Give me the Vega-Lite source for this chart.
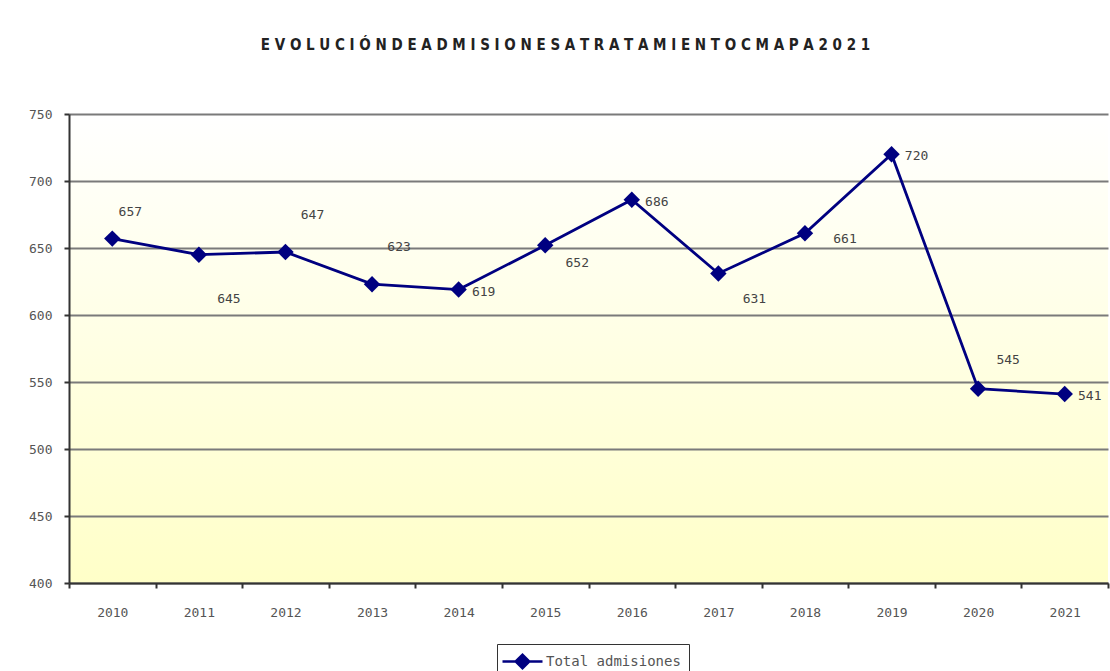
{
  "$schema": "https://vega.github.io/schema/vega-lite/v6.json",
  "width": 1039,
  "height": 469,
  "autosize": {"type": "none"},
  "padding": {"left": 69, "top": 114, "right": 2, "bottom": 88},
  "background": "white",
  "title": {
    "text": "E V O L U C I Ó N   D E   A D M I S I O N E S   A   T R A T A M I E N T O   C M A P A   2 0 2 1",
    "anchor": "middle",
    "frame": "group",
    "offset": 55,
    "dx": -23,
    "fontSize": 15,
    "fontWeight": "bold",
    "font": "Liberation Sans Narrow, DejaVu Sans Condensed, Liberation Sans, sans-serif",
    "color": "#222222"
  },
  "data": {
    "values": [
      {"year": "2010", "admisiones": 657},
      {"year": "2011", "admisiones": 645},
      {"year": "2012", "admisiones": 647},
      {"year": "2013", "admisiones": 623},
      {"year": "2014", "admisiones": 619},
      {"year": "2015", "admisiones": 652},
      {"year": "2016", "admisiones": 686},
      {"year": "2017", "admisiones": 631},
      {"year": "2018", "admisiones": 661},
      {"year": "2019", "admisiones": 720},
      {"year": "2020", "admisiones": 545},
      {"year": "2021", "admisiones": 541}
    ]
  },
  "encoding": {
    "x": {
      "field": "year",
      "type": "ordinal",
      "scale": {"paddingInner": 0, "paddingOuter": 0},
      "axis": {
        "title": null,
        "labelAngle": 0,
        "tickBand": "extent",
        "grid": false,
        "domainColor": "#333333",
        "domainWidth": 2,
        "tickColor": "#333333",
        "tickWidth": 2,
        "tickSize": 5,
        "labelPadding": 18,
        "labelFontSize": 13,
        "labelColor": "#555555",
        "labelFont": "DejaVu Sans Mono, monospace"
      }
    },
    "y": {
      "field": "admisiones",
      "type": "quantitative",
      "scale": {"domain": [400, 750], "nice": false, "zero": false},
      "axis": {
        "title": null,
        "values": [400, 450, 500, 550, 600, 650, 700, 750],
        "grid": true,
        "gridColor": "#7a7a7a",
        "gridWidth": 2,
        "domainColor": "#333333",
        "domainWidth": 2,
        "tickColor": "#333333",
        "tickWidth": 2,
        "tickSize": 5,
        "labelPadding": 12,
        "labelFontSize": 13,
        "labelColor": "#555555",
        "labelFont": "DejaVu Sans Mono, monospace"
      }
    }
  },
  "layer": [
    {
      "mark": {"type": "line", "strokeWidth": 2.8, "color": "#000080"},
      "encoding": {
        "color": {
          "datum": "Total admisiones",
          "type": "nominal",
          "scale": {"range": ["#000080"]},
          "legend": {
            "orient": "none",
            "legendX": 428,
            "legendY": 530,
            "title": null,
            "strokeColor": "#333333",
            "fillColor": "white",
            "padding": 8,
            "symbolType": "M-2.5,0H2.5M-0.85,0L0,-0.85L0.85,0L0,0.85Z",
            "symbolSize": 256,
            "symbolStrokeWidth": 2.5,
            "symbolFillColor": "#000080",
            "symbolStrokeColor": "#000080",
            "symbolOffset": 8,
            "labelOffset": 14,
            "labelFontSize": 14,
            "labelColor": "#555555",
            "labelFont": "DejaVu Sans Mono, monospace"
          }
        }
      }
    },
    {
      "mark": {"type": "point", "shape": "diamond", "size": 270, "filled": true, "color": "#000080", "opacity": 1}
    },
    {
      "transform": [{"filter": {"field": "year", "oneOf": ["2014", "2016", "2019", "2021"]}}],
      "mark": {"type": "text", "dx": 25, "dy": 2, "align": "center", "baseline": "middle", "fontSize": 13, "color": "#444444", "font": "DejaVu Sans Mono, monospace"},
      "encoding": {"text": {"field": "admisiones", "type": "quantitative"}}
    },
    {
      "transform": [{"filter": {"field": "year", "oneOf": ["2018"]}}],
      "mark": {"type": "text", "dx": 40, "dy": 6, "align": "center", "baseline": "middle", "fontSize": 13, "color": "#444444", "font": "DejaVu Sans Mono, monospace"},
      "encoding": {"text": {"field": "admisiones", "type": "quantitative"}}
    },
    {
      "transform": [{"filter": {"field": "year", "oneOf": ["2012", "2013"]}}],
      "mark": {"type": "text", "dx": 27, "dy": -37, "align": "center", "baseline": "middle", "fontSize": 13, "color": "#444444", "font": "DejaVu Sans Mono, monospace"},
      "encoding": {"text": {"field": "admisiones", "type": "quantitative"}}
    },
    {
      "transform": [{"filter": {"field": "year", "oneOf": ["2010"]}}],
      "mark": {"type": "text", "dx": 18, "dy": -27, "align": "center", "baseline": "middle", "fontSize": 13, "color": "#444444", "font": "DejaVu Sans Mono, monospace"},
      "encoding": {"text": {"field": "admisiones", "type": "quantitative"}}
    },
    {
      "transform": [{"filter": {"field": "year", "oneOf": ["2020"]}}],
      "mark": {"type": "text", "dx": 30, "dy": -29, "align": "center", "baseline": "middle", "fontSize": 13, "color": "#444444", "font": "DejaVu Sans Mono, monospace"},
      "encoding": {"text": {"field": "admisiones", "type": "quantitative"}}
    },
    {
      "transform": [{"filter": {"field": "year", "oneOf": ["2011"]}}],
      "mark": {"type": "text", "dx": 30, "dy": 44, "align": "center", "baseline": "middle", "fontSize": 13, "color": "#444444", "font": "DejaVu Sans Mono, monospace"},
      "encoding": {"text": {"field": "admisiones", "type": "quantitative"}}
    },
    {
      "transform": [{"filter": {"field": "year", "oneOf": ["2017"]}}],
      "mark": {"type": "text", "dx": 36, "dy": 26, "align": "center", "baseline": "middle", "fontSize": 13, "color": "#444444", "font": "DejaVu Sans Mono, monospace"},
      "encoding": {"text": {"field": "admisiones", "type": "quantitative"}}
    },
    {
      "transform": [{"filter": {"field": "year", "oneOf": ["2015"]}}],
      "mark": {"type": "text", "dx": 32, "dy": 18, "align": "center", "baseline": "middle", "fontSize": 13, "color": "#444444", "font": "DejaVu Sans Mono, monospace"},
      "encoding": {"text": {"field": "admisiones", "type": "quantitative"}}
    }
  ],
  "config": {
    "view": {
      "stroke": null,
      "fill": {
        "gradient": "linear",
        "x1": 0, "y1": 0, "x2": 0, "y2": 1,
        "stops": [
          {"offset": 0, "color": "#FFFFFF"},
          {"offset": 1, "color": "#FFFFC8"}
        ]
      }
    }
  }
}
